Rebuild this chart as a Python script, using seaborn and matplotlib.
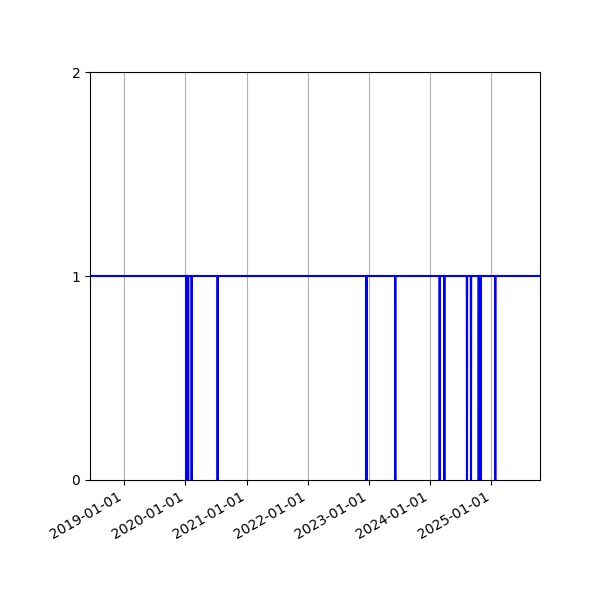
import matplotlib
matplotlib.use('Agg')
import matplotlib.pyplot as plt
import matplotlib.dates as mdates
import seaborn as sns
import pandas as pd

# data: daily flag, 1 almost everywhere, 0 on a few days
start_date = '2018-06-10'
end_date = '2025-10-18'
zero_days = ['2020-01-06', '2020-01-17', '2020-02-07', '2020-07-11',
             '2022-12-17', '2023-06-07',
             '2024-02-27', '2024-03-26', '2024-08-08', '2024-09-01',
             '2024-10-17', '2024-10-29', '2025-01-24']

dias = pd.date_range(start_date, end_date, freq='D')
valor = [0 if d in pd.to_datetime(zero_days) else 1 for d in dias]
df = pd.DataFrame({'data': dias, 'valor': valor})

fig, ax = plt.subplots(figsize=(6, 6), dpi=100)
sns.lineplot(data=df, x='data', y='valor', color='blue', linewidth=1.5,
             estimator=None, ax=ax)

ax.set_xlim(dias[0], dias[-1])
ax.set_ylim(0, 2)
ax.set_yticks([0, 1, 2])
ax.xaxis.set_major_locator(mdates.YearLocator())
ax.xaxis.set_major_formatter(mdates.DateFormatter('%Y-%m-%d'))
ax.grid(True, axis='x')
ax.set_xlabel('')
ax.set_ylabel('')

fig.autofmt_xdate()
fig.subplots_adjust(left=0.15, right=0.9, top=0.88, bottom=0.2)
plt.savefig('out.png', dpi=100)
